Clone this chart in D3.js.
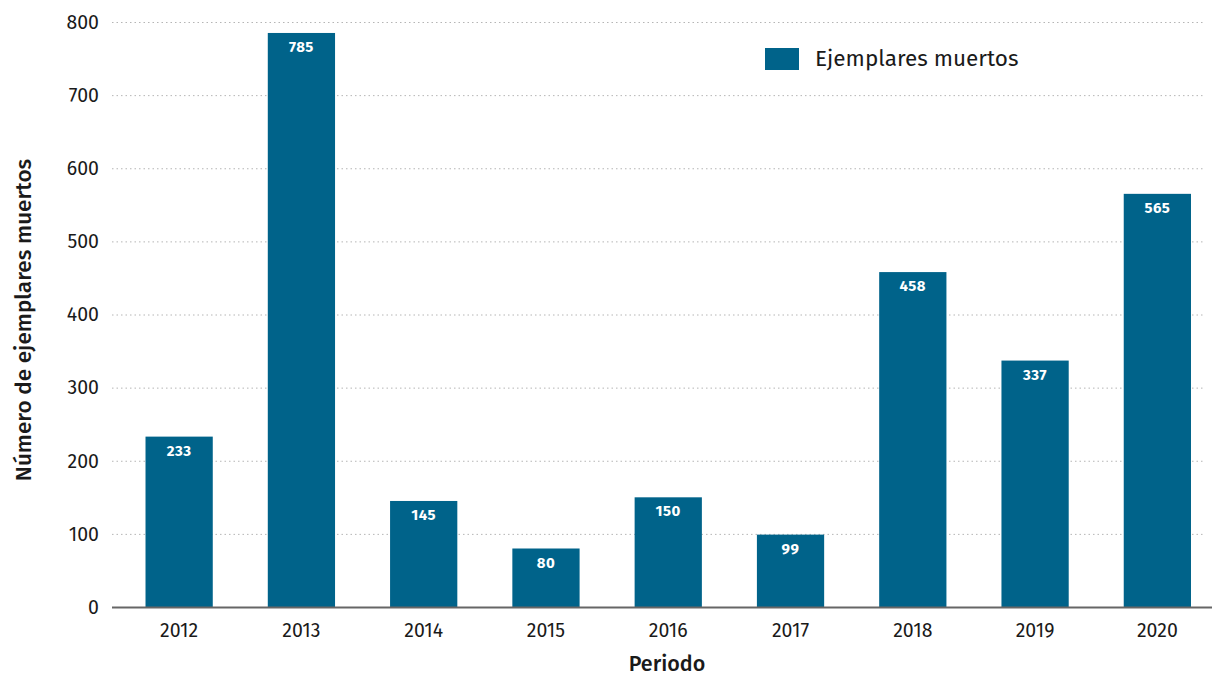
<!DOCTYPE html>
<html>
<head>
<meta charset="utf-8">
<script src="https://cdn.jsdelivr.net/npm/d3@7"></script>
<style>
	body { margin: 0; background: #fff; }
	svg { font-family: "Fira Sans", "Noto Sans", sans-serif; }
</style>
</head>
<body>
<div id="chart"></div>
<script>
	var years = ["2012", "2013", "2014", "2015", "2016", "2017", "2018", "2019", "2020"];
	var muertos = [233, 785, 145, 80, 150, 99, 458, 337, 565];
	var yTicks = [0, 100, 200, 300, 400, 500, 600, 700, 800];
	var seriesName = "Ejemplares muertos";

	var width = 1212,
		height = 677;

	var svg = d3.select("#chart")
		.append("svg")
		.attr("width", width)
		.attr("height", height);

	var x = d3.scaleBand()
		.domain(years)
		.range([118, 1218.5])
		.paddingInner(0.45)
		.paddingOuter(0.225);

	var y = d3.scaleLinear()
		.domain([0, 800])
		.range([607, 22]);

	// grid
	svg.append("g")
		.selectAll("line")
		.data(yTicks.filter(d => d > 0))
		.enter()
		.append("line")
		.attr("x1", 112)
		.attr("x2", 1204)
		.attr("y1", d => y(d) + 0.5)
		.attr("y2", d => y(d) + 0.5)
		.attr("stroke", "#b5b5b5")
		.attr("stroke-width", 1)
		.attr("stroke-dasharray", "1.5,3");

	// y tick labels
	svg.append("g")
		.selectAll("text")
		.data(yTicks)
		.enter()
		.append("text")
		.attr("x", 99)
		.attr("y", d => y(d))
		.attr("dy", "0.35em")
		.attr("text-anchor", "end")
		.attr("font-size", 19.5)
		.attr("fill", "#1a1a1a")
		.text(d => d);

	// bars
	var data = years.map((d, i) => ({ year: d, value: muertos[i] }));

	svg.append("g")
		.selectAll("rect")
		.data(data)
		.enter()
		.append("rect")
		.attr("x", d => x(d.year))
		.attr("width", x.bandwidth())
		.attr("y", d => y(d.value))
		.attr("height", d => y(0) - y(d.value))
		.attr("fill", "#00638a");

	svg.append("g")
		.selectAll("text")
		.data(data)
		.enter()
		.append("text")
		.attr("x", d => x(d.year) + x.bandwidth() / 2)
		.attr("y", d => y(d.value) + 19)
		.attr("text-anchor", "middle")
		.attr("font-size", 15)
		.attr("font-weight", "bold")
		.attr("letter-spacing", 0.5)
		.attr("fill", "#fff")
		.text(d => d.value);

	// baseline
	svg.append("line")
		.attr("x1", 112)
		.attr("x2", 1212)
		.attr("y1", y(0) + 0.5)
		.attr("y2", y(0) + 0.5)
		.attr("stroke", "#666")
		.attr("stroke-width", 2);

	// x tick labels
	svg.append("g")
		.selectAll("text")
		.data(years)
		.enter()
		.append("text")
		.attr("x", d => x(d) + x.bandwidth() / 2)
		.attr("y", 637)
		.attr("text-anchor", "middle")
		.attr("font-size", 19.5)
		.attr("fill", "#1a1a1a")
		.text(d => d);

	// axis titles
	svg.append("text")
		.attr("transform", "translate(31,320) rotate(-90)")
		.attr("text-anchor", "middle")
		.attr("font-size", 22.5)
		.attr("font-weight", 500)
		.attr("fill", "#1a1a1a")
		.text("Número de ejemplares muertos");

	svg.append("text")
		.attr("x", 667)
		.attr("y", 671)
		.attr("text-anchor", "middle")
		.attr("font-size", 21.5)
		.attr("font-weight", 500)
		.attr("fill", "#1a1a1a")
		.text("Periodo");

	// legend
	svg.append("rect")
		.attr("x", 765)
		.attr("y", 48)
		.attr("width", 34)
		.attr("height", 22)
		.attr("fill", "#00638a");

	svg.append("text")
		.attr("x", 815)
		.attr("y", 66)
		.attr("font-size", 22.5)
		.attr("fill", "#1a1a1a")
		.text(seriesName);
</script>
</body>
</html>
